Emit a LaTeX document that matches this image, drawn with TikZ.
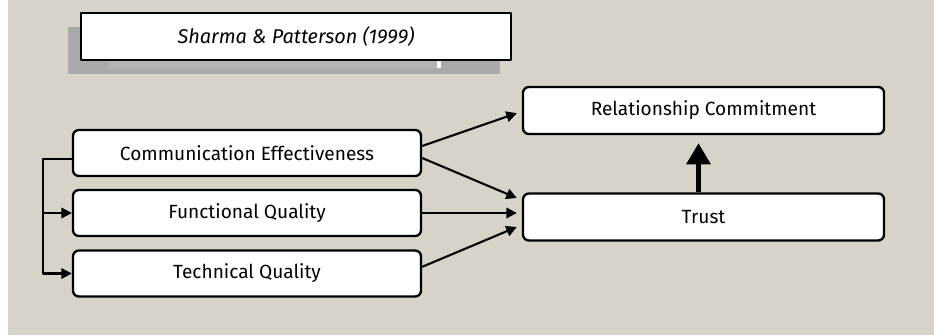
\documentclass[tikz,border=0pt]{standalone}
\usepackage{fontspec}
\setmainfont{Fira Sans}
\usetikzlibrary{arrows.meta}
\definecolor{paper}{HTML}{D7D3C9}
\definecolor{shadowgray}{HTML}{A9A9A9}
\definecolor{ghostgray}{HTML}{B4B3B1}
\tikzset{
  box/.style={draw, line width=2pt, fill=white, rounded corners=5pt, inner sep=0pt,
    minimum width=10.44cm, minimum height=1.38cm},
  bigbox/.style={box, minimum width=10.83cm, minimum height=1.41cm},
  link/.style={->, line width=1.8pt}
}
\begin{document}
\begin{tikzpicture}[x=0.03cm, y=-0.03cm, line join=round, >={Triangle[length=9pt,width=9pt]},
    font=\fontsize{16.3}{19}\selectfont]
  \useasboundingbox (0,0) rectangle (934,335);
  \fill[paper] (8,0) rectangle (934,335);
  % source box with its shadow
  \fill[shadowgray] (68,27) rectangle (500,74);
  \fill[ghostgray] (108,55) rectangle (437,69);
  \fill[white] (437,60) rectangle (441,68);
  \node[box, rounded corners=0pt, minimum width=12.9cm, minimum height=1.41cm,
    font=\fontsize{17}{20}\selectfont\itshape] (src) at (296,36.5) {Sharma \& Patterson (1999)};
  % antecedents
  \node[box] (ce) at (247,153) {Communication Effectiveness};
  \node[box] (fq) at (247,213) {Functional Quality};
  \node[box] (tq) at (247,273.5) {Technical Quality};
  % outcomes
  \node[bigbox] (rc) at (703.5,110.5) {Relationship Commitment};
  \node[bigbox] (tr) at (703.5,217) {Trust};
  % fork on the left
  \coordinate (fork) at (43,159);
  \draw[link] ([yshift=-0.18cm]ce.west) -- (fork) |- (tq.west);
  \draw[link] (fork |- fq.west) -- (fq.west);
  % arrows to the right
  \draw[link] ([yshift=0.21cm]ce.east) -- ([xshift=-0.15cm,yshift=-0.08cm]rc.west);
  \draw[link] ([yshift=-0.15cm]ce.east) -- ([xshift=-0.15cm,yshift=0.57cm]tr.west);
  \draw[link] (fq.east) -- ([xshift=-0.15cm]tr.west |- fq.east);
  \draw[link] ([yshift=0.2cm]tq.east) -- ([xshift=-0.15cm,yshift=-0.3cm]tr.west);
  \draw[-{Triangle[length=18pt,width=20pt]}, line width=4pt]
    ([xshift=-0.15cm]tr.north) -- ([xshift=-0.15cm,yshift=-0.24cm]rc.south);
\end{tikzpicture}
\end{document}
